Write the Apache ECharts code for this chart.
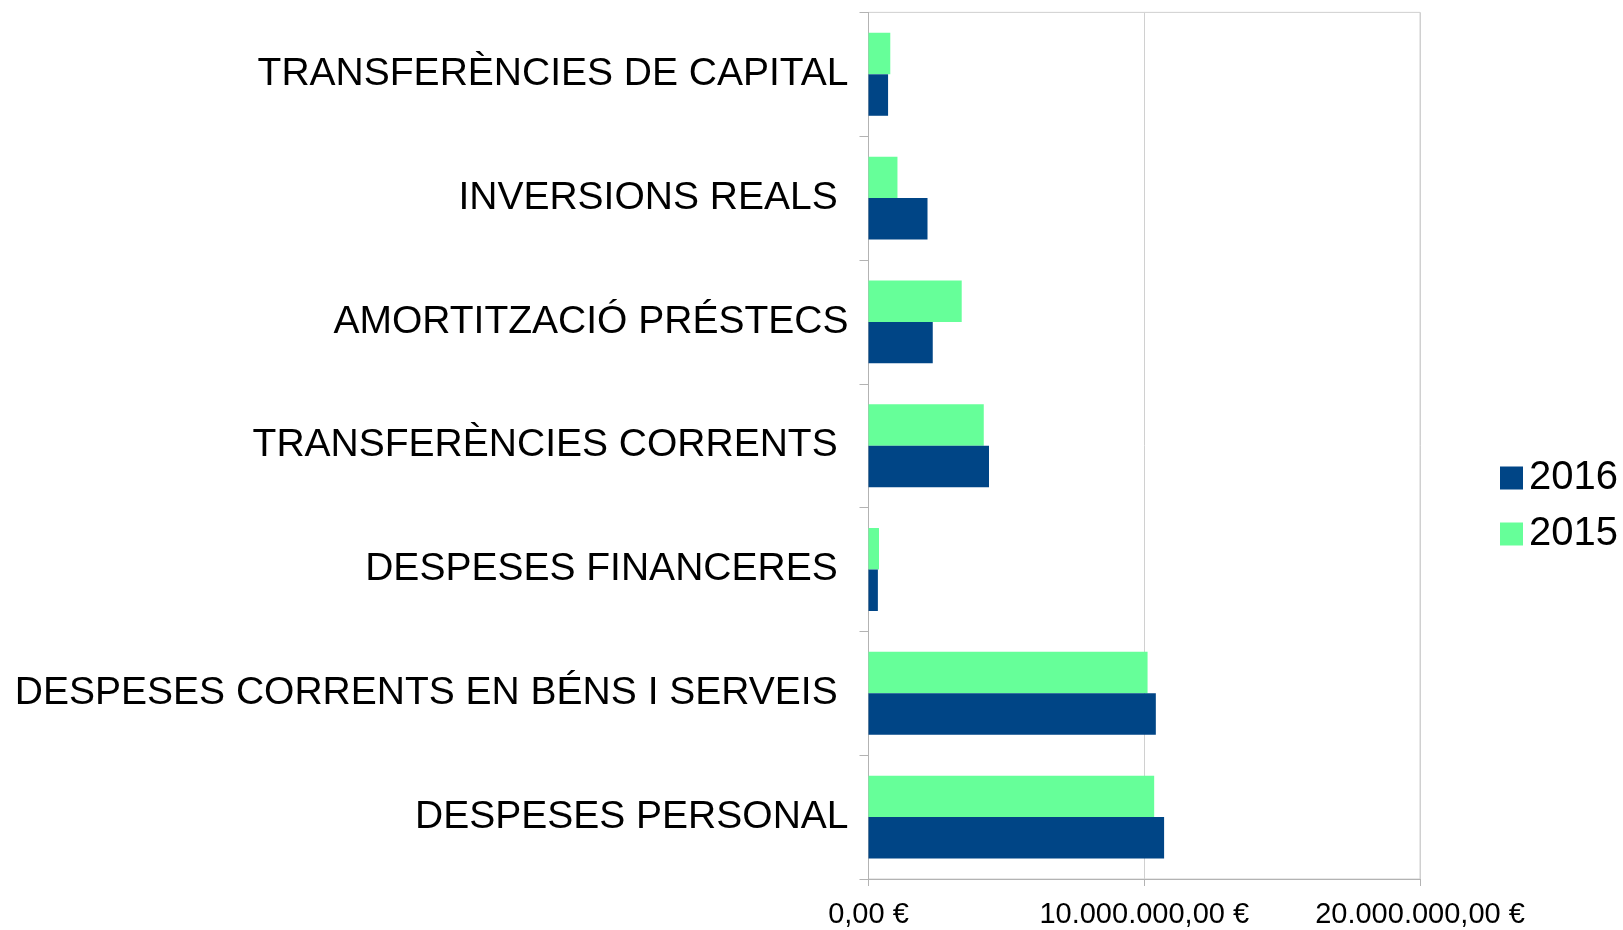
<!DOCTYPE html>
<html>
<head>
<meta charset="utf-8">
<script src="https://cdn.jsdelivr.net/npm/echarts@6/dist/echarts.min.js"></script>
<style>
html,body{margin:0;padding:0;background:#fff;}
#chart{width:1623px;height:930px;}
</style>
</head>
<body>
<div id="chart"></div>
<script>
const categories = [
  "DESPESES PERSONAL",
  "DESPESES CORRENTS EN BÉNS I SERVEIS ",
  "DESPESES FINANCERES ",
  "TRANSFERÈNCIES CORRENTS ",
  "AMORTITZACIÓ PRÉSTECS",
  "INVERSIONS REALS ",
  "TRANSFERÈNCIES DE CAPITAL"
];
const values2016 = [10720000, 10420000, 340000, 4370000, 2330000, 2140000, 710000];
const values2015 = [10360000, 10120000, 380000, 4180000, 3380000, 1050000, 790000];
const legendNames = ["2016", "2015"];
const xTicks = [0, 10000000, 20000000];

function fmtEuro(v) {
  const parts = v.toFixed(2).split(".");
  const intPart = parts[0].replace(/\B(?=(\d{3})+(?!\d))/g, ".");
  return intPart + "," + parts[1] + " €";
}

const chart = echarts.init(document.getElementById('chart'), null, {renderer: 'canvas'});
const font = "Liberation Sans";
chart.setOption({
  animation: false,
  backgroundColor: '#ffffff',
  grid: {
    left: 868.5, right: 203, top: 12.4, bottom: 51,
    show: true, borderColor: '#d0d0d0', borderWidth: 1, backgroundColor: 'transparent'
  },
  legend: {
    orient: 'vertical',
    left: 1495, top: 453,
    itemWidth: 23, itemHeight: 23, itemGap: 16,
    icon: 'rect',
    data: legendNames,
    textStyle: {fontFamily: font, fontSize: 40, color: '#000', lineHeight: 40, padding: [0, 0, 0, 1]}
  },
  xAxis: {
    type: 'value',
    min: xTicks[0], max: xTicks[xTicks.length - 1], interval: xTicks[1] - xTicks[0],
    axisLine: {show: true, lineStyle: {color: '#b3b3b3', width: 1}},
    axisTick: {show: true, length: 7, lineStyle: {color: '#b3b3b3'}},
    splitLine: {show: true, lineStyle: {color: '#d0d0d0', width: 1}},
    axisLabel: {fontFamily: font, fontSize: 29, color: '#000', margin: 21, formatter: fmtEuro}
  },
  yAxis: {
    type: 'category',
    data: categories,
    axisLine: {show: true, lineStyle: {color: '#b3b3b3', width: 1}},
    axisTick: {show: true, length: 9, lineStyle: {color: '#b3b3b3'}},
    splitLine: {show: false},
    axisLabel: {fontFamily: font, fontSize: 39, color: '#000', margin: 20}
  },
  series: [
    {name: "2015", type: 'bar', data: values2015, itemStyle: {color: '#66ff99'}, barGap: '0%', barCategoryGap: '33%'},
    {name: "2016", type: 'bar', data: values2016, itemStyle: {color: '#004586'}, barGap: '0%', barCategoryGap: '33%'}
  ]
});
</script>
</body>
</html>
